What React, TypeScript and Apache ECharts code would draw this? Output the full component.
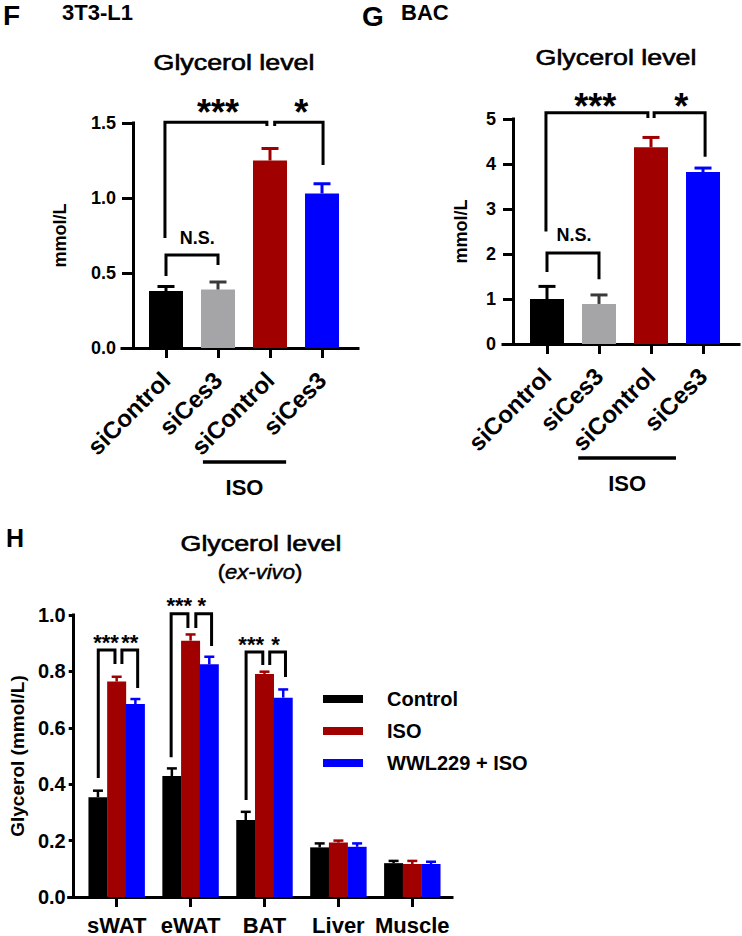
import React, { useEffect, useRef } from 'react';
import * as echarts from 'echarts';

const FONT = '"Liberation Sans", Arial, Helvetica, sans-serif';

// ---------- Panel F (3T3-L1) ----------
const fCats = ['siControl', 'siCes3', 'siControl', 'siCes3'];
const fMeans = [0.38, 0.39, 1.25, 1.03];
const fUpper = [0.41, 0.44, 1.33, 1.095];
const fColors = ['#000000', '#a5a5a8', '#a00000', '#0000ff'];
const fErrColors = ['#000000', '#3a3a3a', '#a00000', '#0000ff'];
const fTicks = ['0.0', '0.5', '1.0', '1.5'];
// brackets: [x1, x2, top, leftEnd, rightEnd]
const fBrackets = [
  [-0.02, 1.94, 1.505, 0.733, 1.48],
  [2.09, 3.02, 1.505, 1.48, 1.22],
  [0, 1, 0.62, 0.48, 0.553],
];
const fLabels = ['***', '*', 'N.S.'];
const fLabelPos = [[1.0, 1.637], [2.6, 1.637], [0.6, 0.733]];
const fIso = [0.71, 2.31];

// ---------- Panel G (BAC) ----------
const gCats = ['siControl', 'siCes3', 'siControl', 'siCes3'];
const gMeans = [1.0, 0.89, 4.37, 3.82];
const gUpper = [1.28, 1.09, 4.59, 3.91];
const gBrackets = [
  [-0.02, 1.94, 5.14, 2.5, 5.02],
  [2.06, 3.04, 5.14, 5.02, 4.16],
  [0, 1, 2.02, 1.6, 1.44],
];
const gLabels = ['***', '*', 'N.S.'];
const gLabelPos = [[0.93, 5.49], [2.58, 5.49], [0.52, 2.42]];
const gIso = [0.6, 2.48];

// ---------- Panel H (ex-vivo) ----------
const hCats = ['sWAT', 'eWAT', 'BAT', 'Liver', 'Muscle'];
const hSeriesNames = ['Control', 'ISO', 'WWL229 + ISO'];
const hColors = ['#000000', '#a00000', '#0000ff'];
const hControl = [0.354, 0.429, 0.273, 0.176, 0.12];
const hControlUpper = [0.377, 0.456, 0.302, 0.19, 0.128];
const hIso = [0.764, 0.909, 0.791, 0.193, 0.117];
const hIsoUpper = [0.781, 0.931, 0.799, 0.2, 0.128];
const hWwl = [0.684, 0.825, 0.707, 0.178, 0.117];
const hWwlUpper = [0.702, 0.852, 0.736, 0.19, 0.125];
const hBrackets = [
  [-0.249, -0.023, 0.876, 0.422, 0.826],
  [0.071, 0.284, 0.876, 0.826, 0.741],
  [0.737, 0.964, 1.004, 0.496, 0.954],
  [1.071, 1.284, 1.004, 0.954, 0.89],
  [1.751, 1.977, 0.869, 0.344, 0.823],
  [2.071, 2.284, 0.869, 0.823, 0.78],
];
const hStars = ['***', '**', '***', '*', '***', '*'];
const hStarPos = [[-0.144, 0.922], [0.178, 0.922], [0.847, 1.053], [1.153, 1.053], [1.82, 0.918], [2.151, 0.918]];
const hBarShift = 0.2533; // one bar width in category units

function xAxisOf(gridIndex: number, min: number, max: number, cats: string[], rotate: number, fontSize: number, margin: number) {
  const idx = cats.map((_, i) => i);
  return {
    type: 'value', gridIndex, min, max,
    axisLine: { show: true, onZero: false, lineStyle: { color: '#000', width: 3, cap: 'square' } },
    axisTick: { show: true, customValues: idx, length: 10, lineStyle: { color: '#000', width: 3 } },
    axisLabel: {
      show: true, customValues: idx, rotate, margin,
      formatter: (v: number) => cats[Math.round(v)] ?? '',
      color: '#000', fontFamily: FONT, fontWeight: 'bold', fontSize,
    },
    splitLine: { show: false },
  };
}

function yAxisOf(gridIndex: number, max: number, interval: number, ticks: string[] | null, offset: number, tickLen: number, labelMargin: number, fontSize: number, name: string, nameGap: number, nameSize: number) {
  return {
    type: 'value', gridIndex, min: 0, max, interval, offset,
    axisLine: { show: true, onZero: false, lineStyle: { color: '#000', width: 3, cap: 'square' } },
    axisTick: { show: true, length: tickLen, lineStyle: { color: '#000', width: 3 } },
    axisLabel: {
      margin: labelMargin, color: '#000', fontFamily: FONT, fontWeight: 'bold', fontSize,
      formatter: (v: number) => (ticks ? ticks[Math.round(v / interval)] : String(v)),
    },
    splitLine: { show: false },
    name, nameLocation: 'middle', nameGap,
    nameTextStyle: { color: '#000', fontFamily: FONT, fontWeight: 'bold', fontSize: nameSize },
  };
}

function errorSeries(ai: number, xs: number[], means: number[], uppers: number[], colors: string[], lw: number, cap: number) {
  return {
    type: 'custom', xAxisIndex: ai, yAxisIndex: ai, silent: true, clip: false, z: 3,
    data: xs.map((x, i) => [x, means[i], uppers[i]]),
    renderItem: (params: any, api: any) => {
      const x = api.value(0);
      const p0 = api.coord([x, api.value(1)]);
      const p1 = api.coord([x, api.value(2)]);
      const c = colors[params.dataIndex % colors.length];
      return {
        type: 'group',
        children: [
          { type: 'line', shape: { x1: p0[0], y1: p0[1], x2: p1[0], y2: p1[1] }, style: { stroke: c, lineWidth: lw } },
          { type: 'line', shape: { x1: p1[0] - cap / 2, y1: p1[1], x2: p1[0] + cap / 2, y2: p1[1] }, style: { stroke: c, lineWidth: lw } },
        ],
      };
    },
  };
}

function bracketSeries(ai: number, brackets: number[][], lw: number) {
  return {
    type: 'custom', xAxisIndex: ai, yAxisIndex: ai, silent: true, clip: false, z: 4,
    data: brackets,
    renderItem: (_params: any, api: any) => {
      const x1 = api.value(0), x2 = api.value(1), top = api.value(2), l = api.value(3), r = api.value(4);
      const pts = [api.coord([x1, l]), api.coord([x1, top]), api.coord([x2, top]), api.coord([x2, r])];
      return { type: 'polyline', shape: { points: pts }, style: { stroke: '#000', lineWidth: lw, fill: 'none', lineJoin: 'miter' } };
    },
  };
}

function textSeries(ai: number, pos: number[][], labels: string[], starSize: number, textSize: number) {
  return {
    type: 'custom', xAxisIndex: ai, yAxisIndex: ai, silent: true, clip: false, z: 5,
    data: pos,
    renderItem: (params: any, api: any) => {
      const p = api.coord([api.value(0), api.value(1)]);
      const label = labels[params.dataIndex];
      const isStar = label.startsWith('*');
      const size = isStar ? starSize : textSize;
      return {
        type: 'text',
        x: p[0], y: p[1] + (isStar ? 0.27 * size : 0),
        style: { text: label, fill: '#000', fontFamily: FONT, fontWeight: 'bold', fontSize: size, textAlign: 'center', textVerticalAlign: 'middle' },
      };
    },
  };
}

function isoSeries(ai: number, span: number[]) {
  return {
    type: 'custom', xAxisIndex: ai, yAxisIndex: ai, silent: true, clip: false, z: 5,
    data: [span],
    renderItem: (_params: any, api: any) => {
      const a = api.coord([api.value(0), 0]);
      const b = api.coord([api.value(1), 0]);
      const y = a[1] + 114;
      return {
        type: 'group',
        children: [
          { type: 'line', shape: { x1: a[0], y1: y, x2: b[0], y2: y }, style: { stroke: '#000', lineWidth: 3.5 } },
          { type: 'text', x: (a[0] + b[0]) / 2, y: y + 25, style: { text: 'ISO', fill: '#000', fontFamily: FONT, fontWeight: 'bold', fontSize: 22, textAlign: 'center', textVerticalAlign: 'middle' } },
        ],
      };
    },
  };
}

function titleText(x: number, y: number, text: string, size: number, weight: string, align: string, scaleX = 1, rich?: any, strokeW = 0) {
  const style: any = { text, fill: '#000', fontFamily: FONT, fontWeight: weight, fontSize: size, textAlign: align, textVerticalAlign: 'middle', rich };
  if (strokeW > 0) {
    style.stroke = '#000';
    style.lineWidth = strokeW;
  }
  return { type: 'text', x, y, scaleX, silent: true, style };
}

function buildOption() {
  const catIdx = fCats.map((_, i) => i);
  const hIdx = hCats.map((_, i) => i);
  const hData = [hControl, hIso, hWwl];
  const hUp = [hControlUpper, hIsoUpper, hWwlUpper];

  const hBars = hSeriesNames.map((name, s) => ({
    type: 'bar', name, xAxisIndex: 2, yAxisIndex: 2, barWidth: 19, barGap: '-100%', silent: true,
    itemStyle: { color: hColors[s] },
    data: hIdx.map((i) => [i + (s - 1) * hBarShift, hData[s][i]]),
  }));
  const hErrs = hSeriesNames.map((_, s) =>
    errorSeries(2, hIdx.map((i) => i + (s - 1) * hBarShift), hData[s], hUp[s], [hColors[s]], 2.5, 10));

  return {
    animation: false,
    backgroundColor: '#ffffff',
    grid: [
      { left: 122, top: 123, width: 236, height: 225 },
      { left: 503, top: 119, width: 236, height: 225 },
      { left: 63, top: 615, width: 389, height: 282 },
    ],
    xAxis: [
      xAxisOf(0, -0.846, 3.692, fCats, 45, 24, 28),
      xAxisOf(1, -0.846, 3.692, gCats, 45, 24, 28),
      xAxisOf(2, -0.649, 4.537, hCats, 0, 22, 17),
    ],
    yAxis: [
      yAxisOf(0, 1.5, 0.5, fTicks, -11, 11, 17, 18, 'mmol/L', 64, 18),
      yAxisOf(1, 5, 1, null, -10, 10, 17, 18, 'mmol/L', 43, 18),
      yAxisOf(2, 1.0, 0.2, ['0.0', '0.2', '0.4', '0.6', '0.8', '1.0'], -5, 5, 8, 20, 'Glycerol (mmol/L)', 46, 19),
    ],
    legend: {
      data: hSeriesNames,
      orient: 'vertical', left: 323, top: 689, padding: 0,
      itemWidth: 59, itemHeight: 8, itemGap: 12,
      icon: 'path://M0,0H40V8H0Z M58.9,3.95H59V4.05H58.9Z',
      selectedMode: false,
      textStyle: { color: '#000', fontFamily: FONT, fontWeight: 'bold', fontSize: 20 },
    },
    graphic: [
      titleText(3, 15, 'F', 28, 'bold', 'left'),
      titleText(62, 12, '3T3-L1', 22, 'bold', 'left'),
      titleText(234, 62, 'Glycerol level', 22, 'normal', 'center', 1.22, undefined, 0.6),
      titleText(362, 16, 'G', 28, 'bold', 'left'),
      titleText(401, 12.5, 'BAC', 22, 'bold', 'left'),
      titleText(616, 57, 'Glycerol level', 22, 'normal', 'center', 1.22, undefined, 0.6),
      titleText(6, 538, 'H', 25, 'bold', 'left'),
      titleText(261, 543, 'Glycerol level', 22, 'normal', 'center', 1.22, undefined, 0.6),
      titleText(260, 572, '({i|ex-vivo})', 21, 'normal', 'center', 1.05, {
        i: { fontStyle: 'italic', fontFamily: FONT, fontSize: 21, fill: '#000', stroke: '#000', lineWidth: 0.5 },
      }, 0.5),
    ],
    series: [
      {
        type: 'bar', xAxisIndex: 0, yAxisIndex: 0, barWidth: 34, silent: true,
        data: catIdx.map((i) => ({ value: [i, fMeans[i]], itemStyle: { color: fColors[i] } })),
      },
      errorSeries(0, catIdx, fMeans, fUpper, fErrColors, 3, 17),
      bracketSeries(0, fBrackets, 3),
      textSeries(0, fLabelPos, fLabels, 36, 18),
      isoSeries(0, fIso),
      {
        type: 'bar', xAxisIndex: 1, yAxisIndex: 1, barWidth: 34, silent: true,
        data: catIdx.map((i) => ({ value: [i, gMeans[i]], itemStyle: { color: fColors[i] } })),
      },
      errorSeries(1, catIdx, gMeans, gUpper, fErrColors, 3, 17),
      bracketSeries(1, gBrackets, 3),
      textSeries(1, gLabelPos, gLabels, 36, 18),
      isoSeries(1, gIso),
      ...hBars,
      ...hErrs,
      bracketSeries(2, hBrackets, 3),
      textSeries(2, hStarPos, hStars, 22, 22),
    ],
  };
}

export default function App() {
  const ref = useRef<HTMLDivElement>(null);
  useEffect(() => {
    document.body.style.margin = '0';
    const chart = echarts.init(ref.current as HTMLDivElement, null, { renderer: 'svg' });
    chart.setOption(buildOption() as any);
    return () => chart.dispose();
  }, []);
  return <div ref={ref} style={{ width: 742, height: 936, overflow: 'hidden' }} />;
}
